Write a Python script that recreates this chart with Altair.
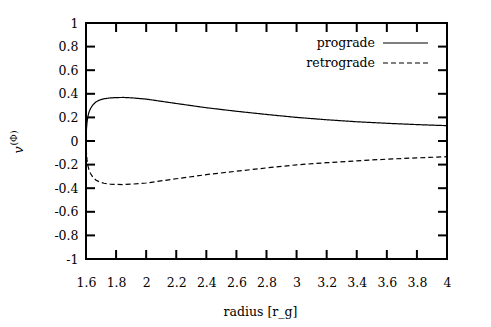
import altair as alt
import pandas as pd

# ---- data ----
radius = [1.600, 1.603, 1.607, 1.612, 1.620, 1.630, 1.645, 1.665, 1.690, 1.720,
          1.760, 1.800, 1.850, 1.900, 2.000, 2.200, 2.400, 2.600, 2.800, 3.000,
          3.200, 3.400, 3.600, 3.800, 4.000]
prograde = [0.000, 0.100, 0.160, 0.205, 0.245, 0.275, 0.305, 0.330, 0.347, 0.358,
            0.365, 0.368, 0.369, 0.366, 0.355, 0.318, 0.282, 0.252, 0.225, 0.200,
            0.180, 0.163, 0.150, 0.139, 0.130]
retrograde = [0.000, -0.100, -0.160, -0.205, -0.245, -0.275, -0.305, -0.330, -0.347, -0.358,
              -0.365, -0.368, -0.369, -0.366, -0.356, -0.320, -0.285, -0.256, -0.228, -0.202,
              -0.184, -0.168, -0.154, -0.143, -0.133]
series_names = ["prograde", "retrograde"]
x_ticks = [1.6, 1.8, 2.0, 2.2, 2.4, 2.6, 2.8, 3.0, 3.2, 3.4, 3.6, 3.8, 4.0]
y_ticks = [-1.0, -0.8, -0.6, -0.4, -0.2, 0.0, 0.2, 0.4, 0.6, 0.8, 1.0]
x_title = "radius [r_g]"
y_title_main = "v"
y_title_sup = "(Φ)"

W, H = 361, 236
TICK = 9
FONT = "'DejaVu Serif', 'Liberation Serif', serif"
FS = 12.5
DASH = [5, 3]

rows = []
for r, p, q in zip(radius, prograde, retrograde):
    rows.append({"r": r, "v": p, "s": series_names[0]})
    rows.append({"r": r, "v": q, "s": series_names[1]})
df = pd.DataFrame(rows)

xscale = alt.Scale(domain=[1.6, 4.0], nice=False, zero=False)
yscale = alt.Scale(domain=[-1.0, 1.0], nice=False, zero=False)
lab = "replace(format(datum.value, '.2~f'), '\u2212', '-')"

xaxis = alt.Axis(values=x_ticks, tickSize=0, domain=False, grid=False,
                 labelFont=FONT, labelFontSize=FS, labelColor="black",
                 labelPadding=17, labelFlush=False, labelExpr=lab,
                 title=x_title, titleFont=FONT, titleFontSize=FS,
                 titleFontWeight="normal", titleColor="black",
                 titleX=174, titleY=52, titleBaseline="middle", titleAlign="center")
yaxis = alt.Axis(values=y_ticks, tickSize=0, domain=False, grid=False,
                 labelFont=FONT, labelFontSize=FS, labelColor="black",
                 labelPadding=8, labelFlush=False, labelExpr=lab, title=None)

X = alt.X("r:Q", scale=xscale, axis=xaxis)
Y = alt.Y("v:Q", scale=yscale, axis=yaxis)
dash_enc = alt.StrokeDash("s:N", scale=alt.Scale(domain=series_names,
                                                 range=[[1, 0], DASH]), legend=None)

lines = alt.Chart(df).mark_line(color="black", strokeWidth=1.2).encode(
    x=X, y=Y, strokeDash=dash_enc, detail="s:N")

xt = pd.DataFrame({"r": x_ticks})
yt = pd.DataFrame({"v": y_ticks})
tick_style = dict(color="black", strokeWidth=2)

bottom_ticks = alt.Chart(xt).mark_rule(**tick_style).encode(
    x=X, y=alt.value(H), y2=alt.value(H - TICK))
top_ticks = alt.Chart(xt).mark_rule(**tick_style).encode(
    x=X, y=alt.value(0), y2=alt.value(TICK))
left_ticks = alt.Chart(yt).mark_rule(**tick_style).encode(
    y=Y, x=alt.value(0), x2=alt.value(TICK))
right_ticks = alt.Chart(yt).mark_rule(**tick_style).encode(
    y=Y, x=alt.value(W), x2=alt.value(W - TICK))

# manual key (label left of sample, as in the reference)
key_layers = []
for i, name in enumerate(series_names):
    kd = pd.DataFrame({"s": [name]})
    ky = 20 + 20 * i
    key_layers.append(alt.Chart(kd).mark_text(
        align="right", baseline="middle", font=FONT, fontSize=FS, color="black"
    ).encode(text="s:N", x=alt.value(289), y=alt.value(ky)))
    key_layers.append(alt.Chart(kd).mark_rule(
        color="black", strokeWidth=1.2, strokeDash=[1, 0] if i == 0 else DASH
    ).encode(x=alt.value(297), x2=alt.value(342), y=alt.value(ky)))

# y-axis title: italic v with superscript (Φ), rotated
td = pd.DataFrame({"a": [y_title_main], "b": [y_title_sup]})
ytitle_main = alt.Chart(td).mark_text(
    angle=270, align="center", baseline="middle", font=FONT, fontSize=FS,
    fontStyle="italic", color="black").encode(
    text="a:N", x=alt.value(-67), y=alt.value(127))
ytitle_sup = alt.Chart(td).mark_text(
    angle=270, align="center", baseline="middle", font=FONT, fontSize=9.5,
    color="black").encode(
    text="b:N", x=alt.value(-72), y=alt.value(115))

chart = alt.layer(lines, bottom_ticks, top_ticks, left_ticks, right_ticks,
                  *key_layers, ytitle_main, ytitle_sup).properties(
    width=W, height=H,
    autosize=alt.AutoSizeParams(type="none"),
    padding={"left": 78, "top": 15, "right": 36, "bottom": 60},
    background="white",
).configure_view(stroke="black", strokeWidth=2)

chart.save("out.html", embed_options={"renderer": "svg", "actions": False})
